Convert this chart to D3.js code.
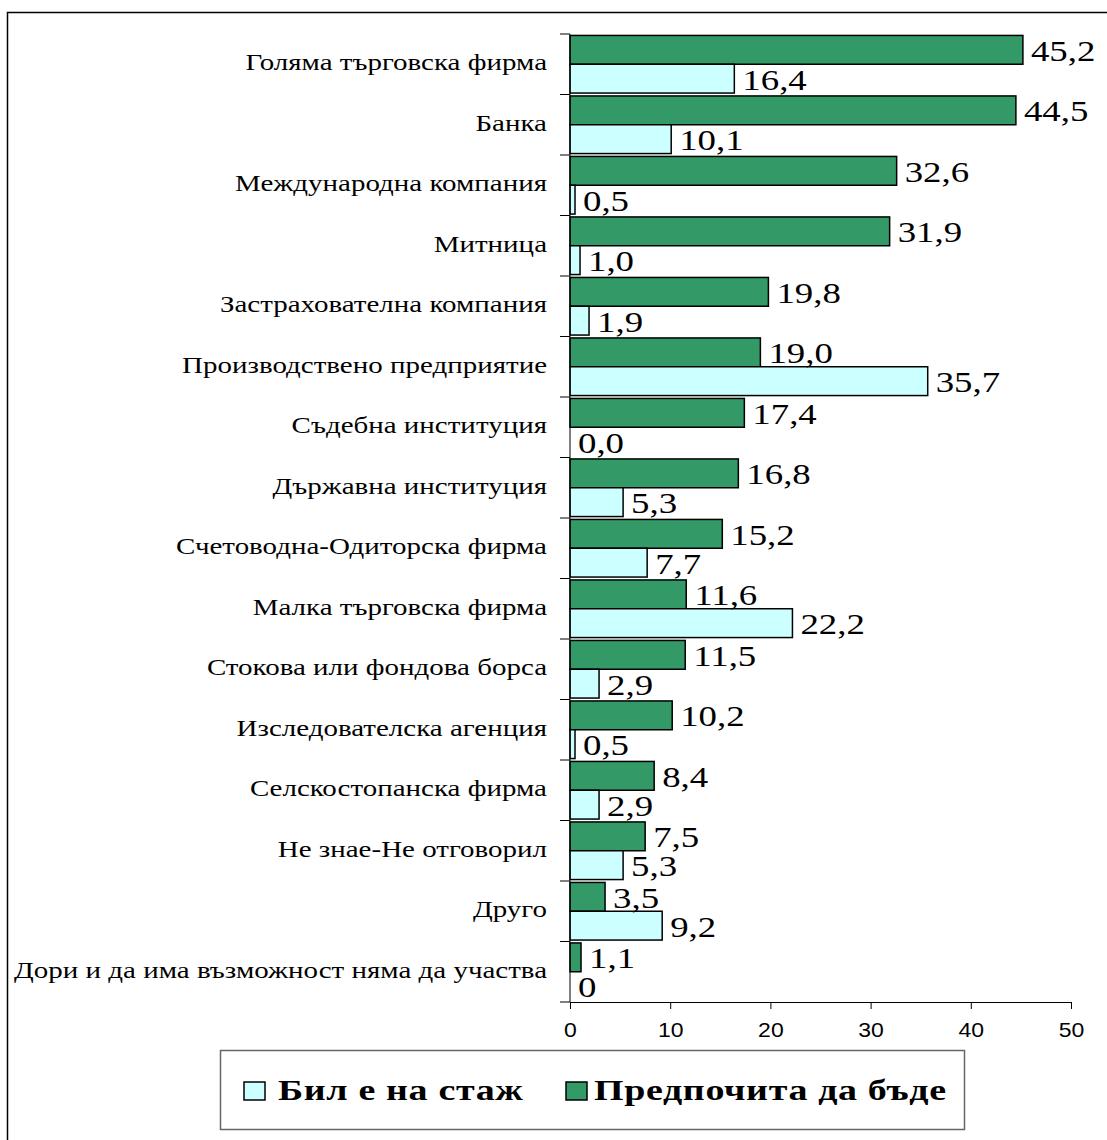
<!DOCTYPE html>
<html><head><meta charset="utf-8">
<script src="https://cdn.jsdelivr.net/npm/d3@7"></script>
<style>body{margin:0;background:#fff}svg{display:block}</style>
</head><body>
<script>
const categories = ["Голяма търговска фирма","Банка","Международна компания","Митница","Застрахователна компания","Производствено предприятие","Съдебна институция","Държавна институция","Счетоводна-Одиторска фирма","Малка търговска фирма","Стокова или фондова борса","Изследователска агенция","Селскостопанска фирма","Не знае-Не отговорил","Друго","Дори и да има възможност няма да участва"];
const prefers = [45.2,44.5,32.6,31.9,19.8,19.0,17.4,16.8,15.2,11.6,11.5,10.2,8.4,7.5,3.5,1.1];
const prefersLabels = ["45,2","44,5","32,6","31,9","19,8","19,0","17,4","16,8","15,2","11,6","11,5","10,2","8,4","7,5","3,5","1,1"];
const intern = [16.4,10.1,0.5,1.0,1.9,35.7,0.0,5.3,7.7,22.2,2.9,0.5,2.9,5.3,9.2,0];
const internLabels = ["16,4","10,1","0,5","1,0","1,9","35,7","0,0","5,3","7,7","22,2","2,9","0,5","2,9","5,3","9,2","0"];
const seriesNames = ["Бил е на стаж","Предпочита да бъде"];
const xTicks = [0,10,20,30,40,50];
const colors = {intern:"#CCFFFF", prefers:"#339966"};

const W=1107,H=1140;
const svg=d3.select("body").append("svg").attr("width",W).attr("height",H);
svg.append("rect").attr("x",7.5).attr("y",12.5).attr("width",W+10).attr("height",H+10).attr("fill","none").attr("stroke","#000").attr("stroke-width",1.5);

const x=d3.scaleLinear().domain([0,50]).range([570,1071]);
const y=d3.scaleBand().domain(categories).range([34,1002]);
const inner=d3.scaleBand().domain(["p","i"]).range([0,y.bandwidth()]).paddingOuter(0.05).paddingInner(0);

const serif="'Liberation Serif','Times New Roman',serif";
const g=svg.append("g");

// bars
const rows=g.selectAll("g.row").data(categories).join("g").attr("transform",d=>`translate(0,${y(d)})`);
rows.append("rect").attr("x",x(0)).attr("y",inner("p")).attr("height",inner.bandwidth())
  .attr("width",(d,i)=>x(prefers[i])-x(0)).attr("fill",colors.prefers).attr("stroke","#000").attr("stroke-width",1.5);
rows.append("rect").attr("x",x(0)).attr("y",inner("i")).attr("height",inner.bandwidth())
  .attr("width",(d,i)=>x(intern[i])-x(0)).attr("fill",colors.intern).attr("stroke","#000").attr("stroke-width",1.5);
rows.append("text").attr("transform",(d,i)=>`translate(${x(prefers[i])+8},${inner("p")+inner.bandwidth()/2+11}) scale(1.27,1)`)
  .attr("font-family",serif).attr("font-size",29).text((d,i)=>prefersLabels[i]);
rows.append("text").attr("transform",(d,i)=>`translate(${x(intern[i])+8},${inner("i")+inner.bandwidth()/2+11}) scale(1.27,1)`)
  .attr("font-family",serif).attr("font-size",29).text((d,i)=>internLabels[i]);

// y axis
const ya=svg.append("g").attr("transform",`translate(${x(0)},0)`);
ya.append("line").attr("x1",0).attr("x2",0).attr("y1",y.range()[0]).attr("y2",y.range()[1]).attr("stroke","#000");
const bounds=categories.map(c=>y(c)).concat([y.range()[1]]);
ya.selectAll("line.t").data(bounds).join("line").attr("x1",-10).attr("x2",0).attr("y1",d=>d).attr("y2",d=>d).attr("stroke","#000");
ya.selectAll("text").data(categories).join("text")
  .attr("transform",d=>`translate(-23,${y(d)+y.bandwidth()/2+6}) scale(1.26,1)`)
  .attr("text-anchor","end").attr("font-family",serif).attr("font-size",23).text(d=>d);

// x axis
const xa=svg.append("g").attr("transform",`translate(0,${y.range()[1]})`)
  .call(d3.axisBottom(x).tickValues(xTicks).tickSize(7).tickSizeOuter(7).tickPadding(14).tickFormat(d3.format("d")));
xa.select(".domain").attr("stroke","#000");
xa.selectAll(".tick line").attr("stroke","#000");
xa.selectAll("text").attr("font-family","'Liberation Sans',Arial,sans-serif").attr("font-size",20).attr("fill","#000")
  .attr("transform","scale(1.15,1)");

// legend
const lg=svg.append("g");
lg.append("rect").attr("x",220.5).attr("y",1050.5).attr("width",744).attr("height",79).attr("fill","#fff").attr("stroke","#666").attr("stroke-width",1.5);
const items=[{name:seriesNames[0],c:colors.intern,x:244,tx:278},{name:seriesNames[1],c:colors.prefers,x:566,tx:594}];
items.forEach(it=>{
  lg.append("rect").attr("x",it.x).attr("y",1082).attr("width",21).attr("height",18).attr("fill",it.c).attr("stroke","#000").attr("stroke-width",1.5);
  lg.append("text").attr("transform",`translate(${it.tx},1100) scale(1.31,1)`).attr("letter-spacing",0.5)
    .attr("font-family",serif).attr("font-weight","bold").attr("font-size",29).text(it.name);
});
</script>
</body></html>
